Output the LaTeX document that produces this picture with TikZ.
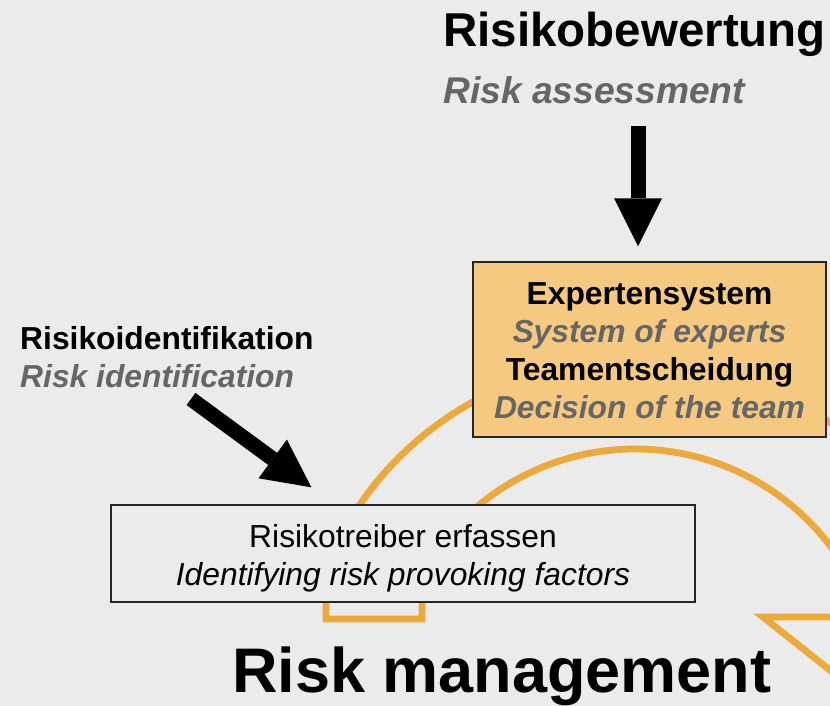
\documentclass[tikz,border=0pt]{standalone}
\usepackage{fontspec}
\setmainfont{Liberation Sans}
\usetikzlibrary{arrows.meta,calc}

\definecolor{canvas}{RGB}{235,235,235}
\definecolor{engl}{RGB}{102,102,102}
\definecolor{ochre}{RGB}{237,170,60}
\definecolor{ochrefill}{RGB}{245,201,128}

\tikzset{
	ring/.style={draw=ochre, line width=6.8pt, line join=miter},
	bigarrow/.style={line width=15pt, -{Triangle[length=48pt, width=48pt, line width=0pt]}},
	box/.style={draw=black!85, line width=1.5pt, inner sep=0pt, align=center, font=\fontsize{31.8}{38}\selectfont},
	headtext/.style={anchor=base west, inner sep=0pt, font=\bfseries\fontsize{31.8}{38}\selectfont},
	engltext/.style={anchor=base west, inner sep=0pt, text=engl, font=\bfseries\itshape\fontsize{31.8}{38}\selectfont},
}

\begin{document}
\begin{tikzpicture}[x=1pt, y=-1pt]
			\useasboundingbox (0, 0) rectangle (830, 706);
			\clip (0, 0) rectangle (830, 706);
			\fill[canvas] (0, 0) rectangle (830, 706);

			\coordinate (hub) at (635, 694);
			\draw[ring] ($(hub)+(380:245)$) arc[start angle=380, end angle=213.2, radius=245] -- (422, 575) -- (422, 619) -- (326, 619) -- (326, 575) -- (330, 558) arc[start angle=204, end angle=320, radius=334];
			\draw[ring] (860, 617) -- (763, 617) -- (860, 694);

			\draw (649.5, 349.5) 	node[box, fill=ochrefill, minimum width=353pt, minimum height=175pt] 	(expert) 	{\rule{0pt}{32pt}\bfseries Expertensystem\\ \textcolor{engl}{\bfseries\itshape System of experts}\\ \bfseries Teamentscheidung\\ \textcolor{engl}{\bfseries\itshape Decision of the team}\rule[-8pt]{0pt}{8pt}};
			\draw (403, 553.5) 	node[box, fill=canvas, minimum width=584pt, minimum height=97pt] 	(treiber) 	{\rule{0pt}{33pt}Risikotreiber erfassen\\ \itshape Identifying risk provoking factors\rule[-8pt]{0pt}{8pt}};

			\draw (443, 47) 	node[headtext, font=\bfseries\fontsize{47.5}{56}\selectfont] 	(bewertung) 	{Risikobewertung};
			\draw (443, 104) 	node[engltext, font=\bfseries\itshape\fontsize{37.2}{44}\selectfont] 	(assess) 	{Risk assessment};
			\draw (20, 349) 	node[headtext] 	(ident) 	{Risikoidentifikation};
			\draw (20, 387) 	node[engltext] 	(identeng) 	{Risk identification};
			\draw (232, 692) 	node[headtext, font=\bfseries\fontsize{63}{74}\selectfont] 	(management) 	{Risk management};

			\coordinate (evaltail) at (638, 126);
			\coordinate (identtail) at (191, 399);
			\draw[bigarrow, shorten >=15pt] (evaltail) -- (evaltail |- expert.north);
			\draw[bigarrow, shorten >=28.6pt] (identtail) -- ($(treiber.north west)!0.383!(treiber.north east)$);
\end{tikzpicture}
\end{document}
